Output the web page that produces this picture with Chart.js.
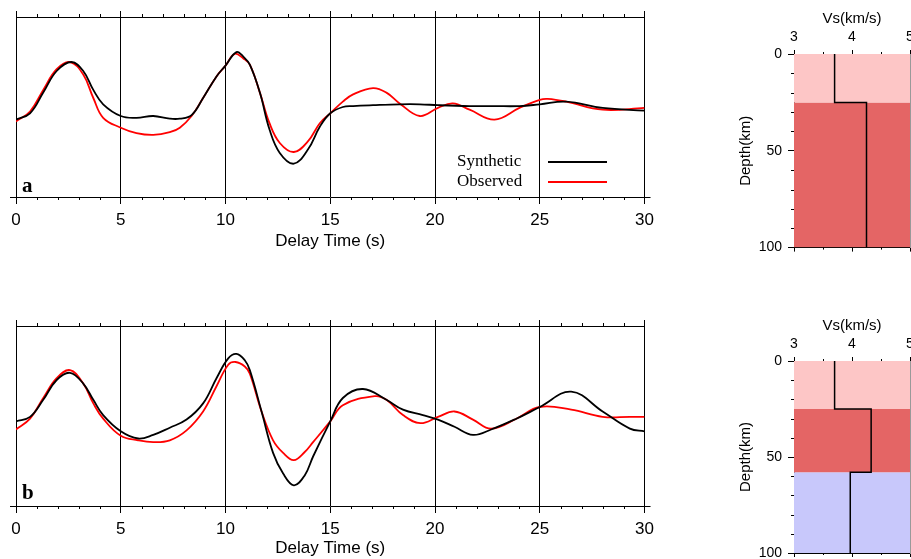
<!DOCTYPE html>
<html>
<head>
<meta charset="utf-8">
<script src="https://cdn.jsdelivr.net/npm/chart.js@4.4.1/dist/chart.umd.min.js"></script>
<style>
html,body{margin:0;padding:0;background:#fff;overflow:hidden;width:911px;height:559px;position:relative;}
canvas{position:absolute;}
.serif{position:absolute;font-family:"Liberation Serif","Times New Roman",serif;color:#000;white-space:nowrap;}
.lg-line{position:absolute;height:2px;}
</style>
</head>
<body>
<canvas id="waveA" width="660" height="255" style="left:0;top:0;"></canvas>
<canvas id="waveB" width="660" height="250" style="left:0;top:309px;"></canvas>
<canvas id="profA" width="260" height="262" style="left:700px;top:0;"></canvas>
<canvas id="profB" width="260" height="262" style="left:700px;top:307px;"></canvas>
<div id="legendA"></div>
<div class="serif" style="left:22px;top:175px;font-size:21px;line-height:21px;font-weight:bold;">a</div>
<div class="serif" style="left:22px;top:482px;font-size:21px;line-height:21px;font-weight:bold;">b</div>
<script>
// ---------------- data ----------------
const delayTicks = [0, 5, 10, 15, 20, 25, 30];
const delayMinor = [1,2,3,4,6,7,8,9,11,12,13,14,16,17,18,19,21,22,23,24,26,27,28,29];
const vsTicks = [3, 4, 5];
const vsMinor = [3.5, 4.5];
const depthTicks = [0, 50, 100];
const depthMinor = [10, 20, 30, 40, 60, 70, 80, 90];
const seriesNames = ['Synthetic', 'Observed'];

// panel a: receiver functions (relative amplitude)
const tA_syn = [0,0.67,1.3,1.94,2.65,3.21,3.69,4.16,5,5.75,6.55,7.34,7.82,8.38,8.93,9.57,10,10.52,10.85,11.16,11.64,12.1,12.59,13.26,13.94,14.5,15,15.6,16.09,17.04,18.31,19.27,20.14,21.65,22.84,24.03,25,26.26,28,30];
const ampA_syn = [-0.14,-0.07,0.16,0.40,0.50,0.40,0.19,0.03,-0.10,-0.12,-0.10,-0.13,-0.13,-0.09,0.10,0.34,0.46,0.61,0.56,0.47,0.16,-0.25,-0.51,-0.63,-0.47,-0.22,-0.07,0.00,0.01,0.02,0.03,0.03,0.02,0.01,0.01,0.01,0.03,0.06,-0.01,-0.04];
const tA_obs = [0,0.67,1.3,1.94,2.58,3.21,3.69,4.16,5,5.75,6.55,7.34,7.82,8.38,8.93,9.57,10,10.44,10.85,11.16,11.64,12.1,12.59,13.26,13.94,14.5,15,15.6,16.09,17.04,17.68,18.31,19.27,20.14,20.85,21.65,22.84,24.03,25,25.38,26.26,28,30];
const ampA_obs = [-0.16,-0.05,0.19,0.42,0.50,0.36,0.10,-0.12,-0.23,-0.29,-0.31,-0.28,-0.23,-0.10,0.10,0.34,0.46,0.59,0.54,0.47,0.16,-0.18,-0.40,-0.50,-0.38,-0.18,-0.07,0.06,0.14,0.21,0.16,0.04,-0.10,-0.01,0.04,-0.03,-0.14,-0.01,0.08,0.09,0.06,-0.03,-0.01];

// panel b
const tB_syn = [0,0.67,1.3,1.94,2.58,3.21,3.69,4.16,5,5.83,6.55,7.34,8.14,8.93,9.57,10.13,10.52,10.92,11.16,11.72,12.27,12.75,13.26,13.78,14.18,15,15.6,16.56,17.68,18.47,19.42,20.14,20.93,21.81,22.68,23.88,25,26.5,28,29.3,30];
const ampB_syn = [-0.06,-0.01,0.18,0.40,0.48,0.36,0.18,0.01,-0.17,-0.25,-0.21,-0.13,-0.04,0.14,0.42,0.64,0.69,0.62,0.51,0.05,-0.41,-0.64,-0.77,-0.66,-0.45,-0.06,0.20,0.30,0.18,0.07,0.01,-0.04,-0.12,-0.21,-0.15,-0.03,0.10,0.27,0.05,-0.14,-0.17];
const tB_obs = [0,0.67,1.3,1.94,2.58,3.21,3.69,4.16,5,5.83,6.55,7.34,8.14,8.93,9.57,10.13,10.48,10.92,11.16,11.72,12.27,12.75,13.26,13.78,14.18,15,15.6,17.12,17.68,18.47,19.3,20.14,20.93,21.81,22.68,23.88,25,26.5,28,29.3,30];
const ampB_obs = [-0.15,-0.03,0.20,0.42,0.51,0.36,0.14,-0.03,-0.22,-0.27,-0.29,-0.27,-0.16,0.05,0.33,0.57,0.60,0.55,0.47,0.05,-0.27,-0.41,-0.49,-0.40,-0.29,-0.06,0.12,0.22,0.18,0.01,-0.08,-0.01,0.05,-0.04,-0.14,-0.03,0.10,0.07,-0.01,-0.01,-0.01];

// velocity models: layer top / bottom depth (km) and Vs (km/s)
const layerTopA = [0, 25];
const layerBotA = [25, 100];
const layerVsA = [3.70, 4.25];
const layerTopB = [0, 25, 58];
const layerBotB = [25, 58, 100];
const layerVsB = [3.70, 4.33, 3.97];

// ---------------- style ----------------
const SANS = '"Liberation Sans", Arial, Helvetica, sans-serif';
const PINK = '#fdc6c6', RED = '#e46565', BLUE = '#c8c8fb';
const layerFillA = [PINK, RED];
const layerFillB = [PINK, RED, BLUE];
const lineColors = ['#000000', '#ff0000'];

function pts(t, v) { return t.map((x, i) => ({ x: x, y: v[i] })); }
function setTicks(arr) { return s => { s.ticks = arr.map(v => ({ value: v })); }; }

function minorTicksPlugin(list) {
  return {
    id: 'minorTicks',
    afterDraw(chart) {
      const ctx = chart.ctx, ca = chart.chartArea;
      ctx.save();
      ctx.strokeStyle = '#000';
      ctx.lineWidth = 1;
      list.forEach(m => {
        const s = chart.scales[m.scale];
        m.values.forEach(v => {
          const p = Math.round(s.getPixelForValue(v)) + 0.5;
          ctx.beginPath();
          if (s.isHorizontal()) {
            if (m.top) { ctx.moveTo(p, ca.top); ctx.lineTo(p, ca.top - m.len); }
            if (m.bottom) { ctx.moveTo(p, ca.bottom); ctx.lineTo(p, ca.bottom + m.len); }
          } else {
            ctx.moveTo(ca.left, p); ctx.lineTo(ca.left - m.len, p);
          }
          ctx.stroke();
        });
      });
      ctx.restore();
    }
  };
}

function waveChart(id, H, titlePadBottom, tSyn, aSyn, tObs, aObs) {
  const TOP = 17, BOTTOM = 197, LEFT = 16, RIGHT = 645, W = 660;
  const lineDs = (i, t, a) => ({
    label: seriesNames[i], data: pts(t, a), borderColor: lineColors[i], borderWidth: 1.8,
    pointRadius: 0, fill: false, tension: 0.4
  });
  return new Chart(document.getElementById(id), {
    type: 'line',
    data: { datasets: [lineDs(0, tSyn, aSyn), lineDs(1, tObs, aObs)] },
    options: {
      responsive: false, animation: false, events: [],
      layout: { padding: 0 },
      plugins: { legend: { display: false }, tooltip: { enabled: false } },
      scales: {
        x: {
          type: 'linear', position: 'bottom', min: 0, max: 30,
          afterBuildTicks: setTicks(delayTicks),
          afterFit: s => { s.height = H - BOTTOM; },
          ticks: { font: { family: SANS, size: 17 }, color: '#000', padding: 6, maxRotation: 0, autoSkip: false, callback: v => String(v) },
          grid: { color: '#000', lineWidth: 1, tickLength: 7, drawOnChartArea: true },
          border: { color: '#000', width: 1 },
          title: { display: true, text: 'Delay Time (s)', color: '#000', font: { family: SANS, size: 17 }, padding: { top: 0, bottom: titlePadBottom } }
        },
        xt: {
          type: 'linear', position: 'top', min: 0, max: 30,
          afterBuildTicks: setTicks(delayTicks),
          afterFit: s => { s.height = TOP; },
          ticks: { display: false },
          grid: { color: '#000', drawOnChartArea: false, tickLength: 6 },
          border: { color: '#000', width: 1 }
        },
        y: {
          type: 'linear', position: 'left', min: -1, max: 1,
          afterBuildTicks: s => { s.ticks = [{ value: -1 }]; },
          afterFit: s => { s.width = LEFT; },
          ticks: { display: false },
          grid: { color: '#000', drawOnChartArea: false, tickLength: 6 },
          border: { color: '#000', width: 1 }
        },
        yr: {
          type: 'linear', position: 'right', min: -1, max: 1,
          afterBuildTicks: s => { s.ticks = [{ value: -1 }]; },
          afterFit: s => { s.width = W - RIGHT; },
          ticks: { display: false },
          grid: { color: '#000', drawOnChartArea: false, tickLength: 6 },
          border: { color: '#000', width: 1 }
        }
      }
    },
    plugins: [minorTicksPlugin([{ scale: 'x', values: delayMinor, len: 3, top: true, bottom: true }])]
  });
}

function profileChart(id, H, bottomPx, tops, bots, vs, fills) {
  const TOP = 54, LEFT = 94, RIGHT = 210, W = 260;
  const vmin = vsTicks[0], vmax = vsTicks[vsTicks.length - 1];
  const datasets = tops.map((t, i) => ({
    label: 'layer ' + (i + 1),
    data: [{ x: vmin, y: t }, { x: vmax, y: t }],
    fill: { value: bots[i] }, backgroundColor: fills[i], borderWidth: 0, borderColor: 'rgba(0,0,0,0)',
    pointRadius: 0, order: 2
  }));
  const step = [];
  tops.forEach((t, i) => { step.push({ x: vs[i], y: t }); step.push({ x: vs[i], y: bots[i] }); });
  datasets.push({ label: 'Vs', data: step, borderColor: '#000', borderWidth: 1.5, pointRadius: 0, fill: false, tension: 0, order: 1 });
  return new Chart(document.getElementById(id), {
    type: 'line',
    data: { datasets: datasets },
    options: {
      responsive: false, animation: false, events: [],
      layout: { padding: 0 },
      plugins: { legend: { display: false }, tooltip: { enabled: false } },
      scales: {
        x: {
          type: 'linear', position: 'top', min: vmin, max: vmax,
          afterBuildTicks: setTicks(vsTicks),
          afterFit: s => { s.height = TOP; },
          ticks: { font: { family: SANS, size: 14 }, color: '#000', padding: 4, maxRotation: 0, autoSkip: false, callback: v => String(v) },
          grid: { color: '#000', drawOnChartArea: false, tickLength: 4 },
          border: { color: '#000', width: 1 },
          title: { display: true, text: 'Vs(km/s)', color: '#000', font: { family: SANS, size: 15 }, padding: { top: 10, bottom: 0 } }
        },
        xb: {
          type: 'linear', position: 'bottom', min: vmin, max: vmax,
          afterBuildTicks: setTicks(vsTicks),
          afterFit: s => { s.height = H - bottomPx; },
          ticks: { display: false },
          grid: { color: '#000', drawOnChartArea: false, tickLength: 4 },
          border: { color: '#000', width: 1 }
        },
        y: {
          type: 'linear', position: 'left', reverse: true, min: depthTicks[0], max: depthTicks[depthTicks.length - 1],
          afterBuildTicks: setTicks(depthTicks),
          afterFit: s => { s.width = LEFT; },
          ticks: { font: { family: SANS, size: 14 }, color: '#000', padding: 6, autoSkip: false, callback: v => String(v) },
          grid: { color: '#000', drawOnChartArea: false, tickLength: 6 },
          border: { color: '#000', width: 1 },
          title: { display: true, text: 'Depth(km)', color: '#000', font: { family: SANS, size: 15 }, padding: { top: 37, bottom: 0 } }
        },
        yr: {
          type: 'linear', position: 'right', reverse: true, min: depthTicks[0], max: depthTicks[depthTicks.length - 1],
          afterFit: s => { s.width = W - RIGHT; },
          ticks: { display: false },
          grid: { drawOnChartArea: false, drawTicks: false },
          border: { color: '#999', width: 1 }
        }
      }
    },
    plugins: [minorTicksPlugin([
      { scale: 'x', values: vsMinor, len: 2, top: true, bottom: true },
      { scale: 'y', values: depthMinor, len: 3 }
    ])]
  });
}

const chartA = waveChart('waveA', 255, 3, tA_syn, ampA_syn, tA_obs, ampA_obs);
const chartB = waveChart('waveB', 250, 0, tB_syn, ampB_syn, tB_obs, ampB_obs);
profileChart('profA', 262, 248, layerTopA, layerBotA, layerVsA, layerFillA);
profileChart('profB', 262, 246, layerTopB, layerBotB, layerVsB, layerFillB);

// legend (HTML, built from the chart's datasets)
(function () {
  const box = document.getElementById('legendA');
  chartA.data.datasets.forEach((ds, i) => {
    const t = document.createElement('div');
    t.className = 'serif';
    t.style.cssText = 'left:457px;top:' + (152 + i * 19.5) + 'px;font-size:17px;line-height:17px;';
    t.textContent = ds.label;
    box.appendChild(t);
    const l = document.createElement('div');
    l.className = 'lg-line';
    l.style.left = '548px';
    l.style.width = '59px';
    l.style.top = (161 + i * 20) + 'px';
    l.style.background = lineColors[i];
    box.appendChild(l);
  });
})();
</script>
</body>
</html>
